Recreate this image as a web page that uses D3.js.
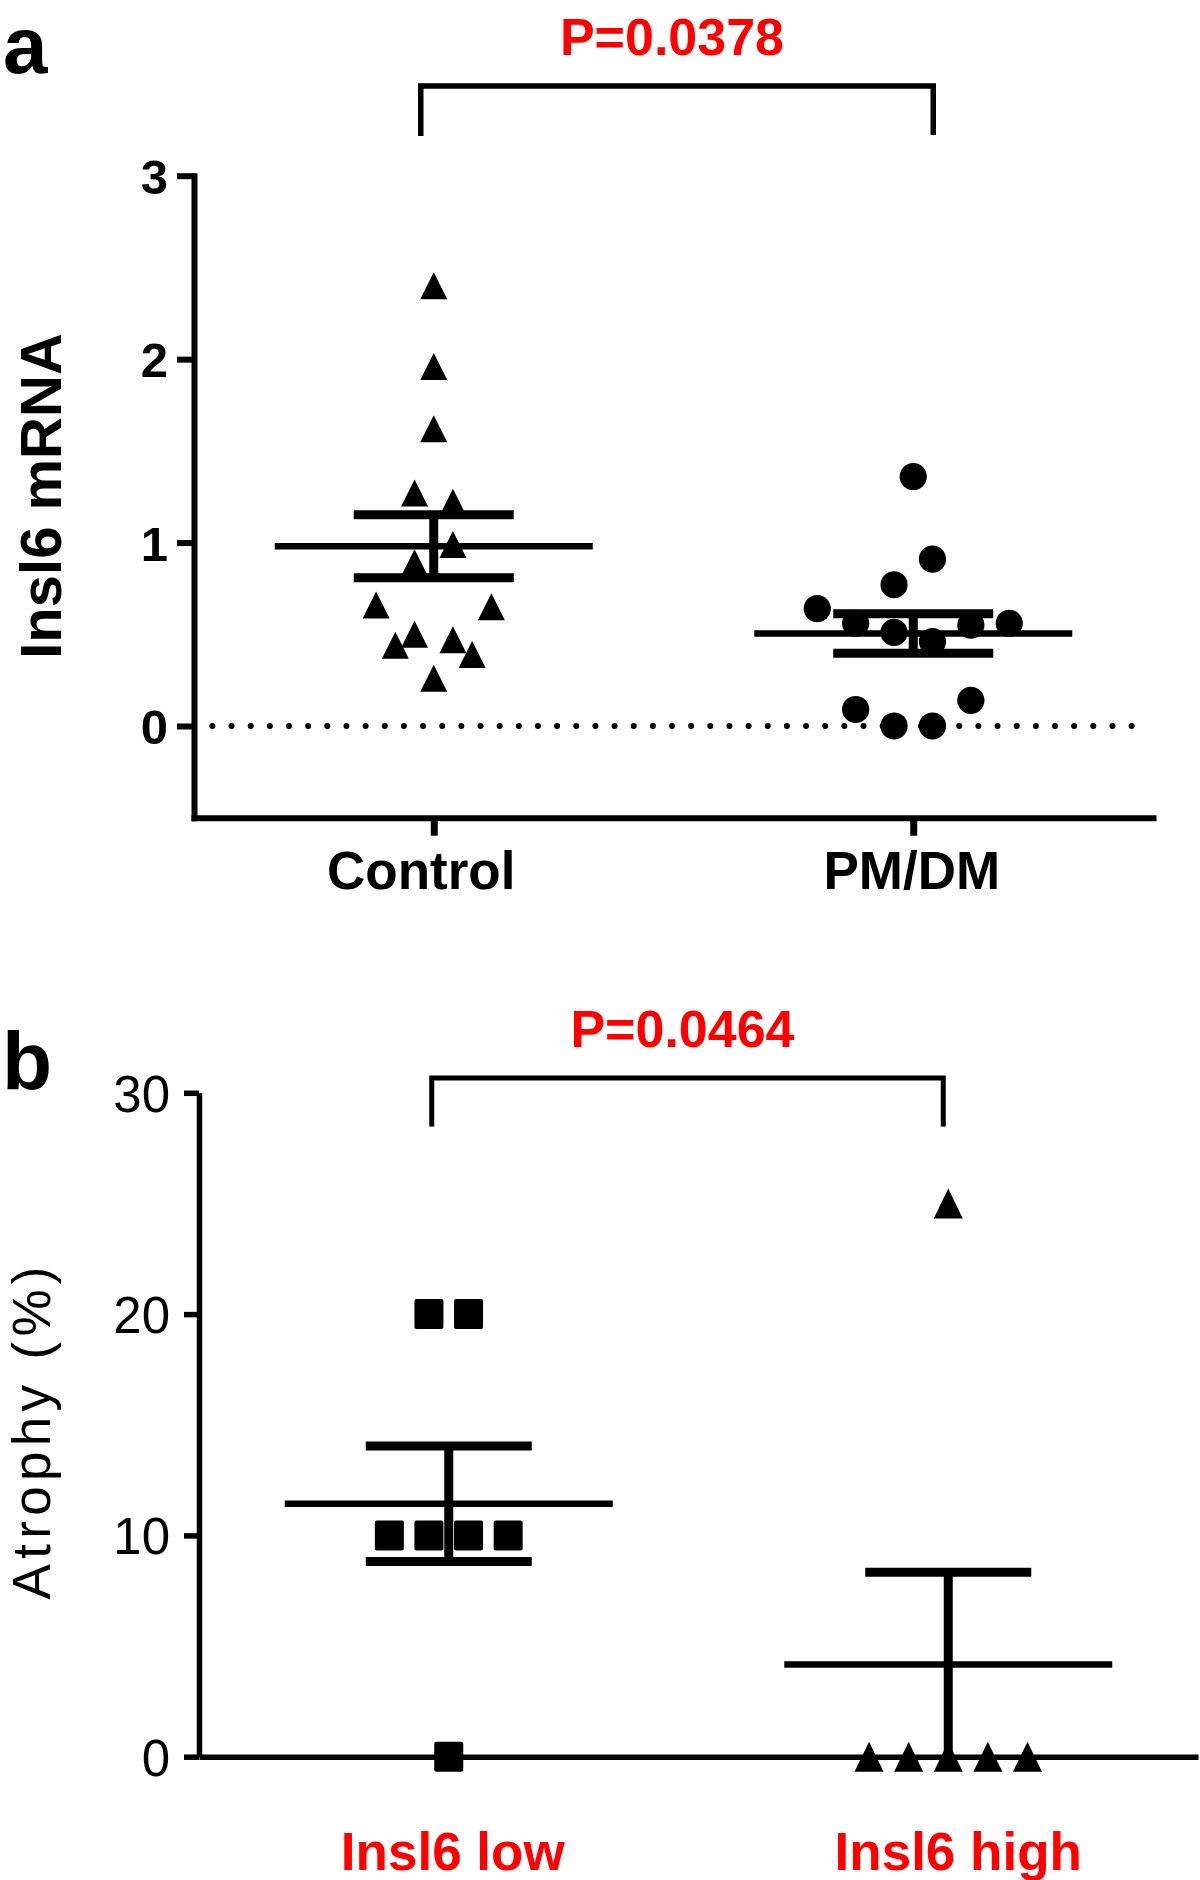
<!DOCTYPE html>
<html><head><meta charset="utf-8">
<script src="https://cdn.jsdelivr.net/npm/d3@7"></script>
<style>body{margin:0;background:#fff} svg{display:block}</style>
</head><body>
<svg id="chart" width="1200" height="1880"></svg>
<script>
// ---------- Panel a data ----------
const groupsA = ["Control", "PM/DM"];
const controlValues = [2.40, 1.96, 1.62, 1.27, 1.22, 0.99, 0.89, 0.66, 0.65, 0.50, 0.44, 0.47, 0.39, 0.26];
const controlJitter = [0, 0, 0, -1, 1, 1, -1, -3, 3, -1, -2, 1, 2, 0];
const pmdmValues = [1.36, 0.91, 0.77, 0.64, 0.56, 0.51, 0.46, 0.55, 0.56, 0.09, 0.00, 0.00, 0.14];
const pmdmJitter = [0, 1, -1, -5, -3, -1, 1, 3, 5, -3, -1, 1, 3];
const ticksA = [0, 1, 2, 3];
const yTitleA = "Insl6 mRNA";
const pLabelA = "P=0.0378";

// ---------- Panel b data ----------
const groupsB = ["Insl6 low", "Insl6 high"];
const lowValues = [20, 20, 10, 10, 10, 10, 0];
const lowJitter = [-1, 1, -3, -1, 1, 3, 0];
const highValues = [25, 0, 0, 0, 0, 0];
const highJitter = [0, -4, -2, 0, 2, 4];
const ticksB = [0, 10, 20, 30];
const yTitleB = "Atrophy (%)";
const pLabelB = "P=0.0464";

const FONT = "'Liberation Sans', Arial, Helvetica, sans-serif";
const RED = "#ff0000";
const svg = d3.select("#chart");

function tri(w, h) {
  return `M0,${-h/2}L${w/2},${h/2}L${-w/2},${h/2}Z`;
}

function summary(g, cx, y, vals, o) {
  const m = d3.mean(vals);
  const s = d3.deviation(vals) / Math.sqrt(vals.length);
  const lo = m - s, hi = m + s;
  const yMin = d3.min(y.domain());
  g.append("line").attr("x1", cx).attr("x2", cx)
    .attr("y1", y(Math.max(lo, yMin))).attr("y2", y(hi))
    .attr("stroke", "#000").attr("stroke-width", o.vW);
  g.append("line").attr("x1", cx - o.meanHalf).attr("x2", cx + o.meanHalf)
    .attr("y1", y(m)).attr("y2", y(m))
    .attr("stroke", "#000").attr("stroke-width", o.meanW);
  const caps = lo > yMin + 0.01 * (y.domain()[1] - y.domain()[0]) ? [hi, lo] : [hi];
  caps.forEach(v => {
    g.append("line").attr("x1", cx - o.capHalf).attr("x2", cx + o.capHalf)
      .attr("y1", y(v)).attr("y2", y(v))
      .attr("stroke", "#000").attr("stroke-width", o.capW);
  });
}

// ================= PANEL A =================
const gA = svg.append("g");
const xA = d3.scalePoint().domain(groupsA).range([194, 1153]).padding(0.5);
const yA = d3.scaleLinear().domain([-0.5, 3]).range([817.7, 175.7]);

// panel letter
svg.append("text").attr("x", 3).attr("y", 73)
  .attr("font-family", FONT).attr("font-weight", "bold").attr("font-size", 80)
  .text("a");

// y axis
const axA = gA.append("g").attr("transform", "translate(194,0)")
  .call(d3.axisLeft(yA).tickValues(ticksA).tickFormat(d3.format("d"))
    .tickSize(17).tickSizeOuter(0).tickPadding(9));
axA.select(".domain").attr("stroke-width", 6).attr("stroke-linecap", "square");
axA.selectAll(".tick line").attr("stroke-width", 6);
axA.selectAll(".tick text").attr("font-family", FONT).attr("font-weight", "bold")
  .attr("font-size", 49).attr("dy", "0.36em").attr("fill", "#000");

// x axis
const axAx = gA.append("g").attr("transform", "translate(0,817.7)")
  .call(d3.axisBottom(xA).tickSize(18).tickSizeOuter(0).tickPadding(16));
axAx.select(".domain").attr("stroke-width", 6).attr("stroke-linecap", "square");
axAx.selectAll(".tick line").attr("stroke-width", 7);
axAx.selectAll(".tick text").attr("font-family", FONT).attr("font-weight", "bold")
  .attr("font-size", 53).attr("fill", "#000")
  .attr("dx", (d, i) => i === 0 ? -13 : -2);

// y title
gA.append("text").attr("transform", "translate(61,496) rotate(-90)")
  .attr("text-anchor", "middle").attr("font-family", FONT)
  .attr("font-weight", "bold").attr("font-size", 58).text(yTitleA);

// dotted zero line
gA.append("line").attr("x1", 212.4).attr("x2", 1150).attr("y1", yA(0)).attr("y2", yA(0))
  .attr("stroke", "#000").attr("stroke-width", 6).attr("stroke-linecap", "round")
  .attr("stroke-dasharray", "0.01 19.14");

const sumOptA = { meanHalf: 159, capHalf: 80, meanW: 6.5, capW: 9, vW: 9 };
summary(gA, xA("Control"), yA, controlValues, sumOptA);
summary(gA, xA("PM/DM"), yA, pmdmValues, sumOptA);

const stepA = 19.2;
gA.append("g").selectAll("path").data(controlValues).join("path")
  .attr("d", tri(27, 27))
  .attr("transform", (d, i) => `translate(${xA("Control") + controlJitter[i] * stepA},${yA(d)})`)
  .attr("fill", "#000");
gA.append("g").selectAll("circle").data(pmdmValues).join("circle")
  .attr("cx", (d, i) => xA("PM/DM") + pmdmJitter[i] * stepA)
  .attr("cy", d => yA(d)).attr("r", 13.6).attr("fill", "#000");

// significance bracket
const bxA1 = xA("Control") - 13, bxA2 = xA("PM/DM") + 20;
gA.append("path").attr("d", `M${bxA1},136V86H${bxA2}V135`)
  .attr("fill", "none").attr("stroke", "#000").attr("stroke-width", 5.5);
gA.append("text").attr("x", (bxA1 + bxA2) / 2 - 5).attr("y", 55)
  .attr("text-anchor", "middle").attr("font-family", FONT).attr("font-weight", "bold")
  .attr("font-size", 52).attr("fill", RED).text(pLabelA);

// ================= PANEL B =================
const gB = svg.append("g");
const xB = d3.scalePoint().domain(groupsB).range([199, 1198]).padding(0.5);
const yB = d3.scaleLinear().domain([0, 30]).range([1756.7, 1092.8]);

svg.append("text").attr("x", 2).attr("y", 1089)
  .attr("font-family", FONT).attr("font-weight", "bold").attr("font-size", 82)
  .text("b");

const axB = gB.append("g").attr("transform", "translate(199,0)")
  .call(d3.axisLeft(yB).tickValues(ticksB).tickFormat(d3.format("d"))
    .tickSize(15).tickSizeOuter(0).tickPadding(14));
axB.select(".domain").attr("stroke-width", 5.5);
axB.selectAll(".tick line").attr("stroke-width", 5.5);
axB.selectAll(".tick text").attr("font-family", FONT).attr("font-weight", "normal")
  .attr("font-size", 51).attr("dy", "0.36em").attr("fill", "#000");

const axBx = gB.append("g").attr("transform", `translate(0,${yB(0)})`)
  .call(d3.axisBottom(xB).tickSize(0).tickSizeOuter(0).tickFormat(""));
axBx.select(".domain").attr("stroke-width", 5.5);

gB.append("text").attr("transform", "translate(50,1433) rotate(-90)")
  .attr("text-anchor", "middle").attr("font-family", FONT)
  .attr("font-size", 53).attr("textLength", 333).attr("lengthAdjust", "spacing")
  .text(yTitleB);

// red category labels
gB.append("g").selectAll("text").data(groupsB).join("text")
  .attr("x", (d, i) => xB(d) + (i === 0 ? 4 : 10)).attr("y", 1870)
  .attr("text-anchor", "middle").attr("font-family", FONT).attr("font-weight", "bold")
  .attr("font-size", 53).attr("fill", RED).text(d => d);

const sumOptB = { meanHalf: 164, capHalf: 83, meanW: 6.5, capW: 9, vW: 9 };
summary(gB, xB("Insl6 low"), yB, lowValues, sumOptB);
summary(gB, xB("Insl6 high"), yB, highValues, sumOptB);

const stepB = 19.8;
gB.append("g").selectAll("rect").data(lowValues).join("rect")
  .attr("x", (d, i) => xB("Insl6 low") + lowJitter[i] * stepB - 14.5)
  .attr("y", d => yB(d) - 15).attr("width", 29).attr("height", 30).attr("rx", 2)
  .attr("fill", "#000");
gB.append("g").selectAll("path").data(highValues).join("path")
  .attr("d", tri(29, 30))
  .attr("transform", (d, i) => `translate(${xB("Insl6 high") + highJitter[i] * stepB},${yB(d)})`)
  .attr("fill", "#000");

const bxB1 = xB("Insl6 low") - 17, bxB2 = xB("Insl6 high") - 5;
gB.append("path").attr("d", `M${bxB1},1126.5V1078H${bxB2}V1126.5`)
  .attr("fill", "none").attr("stroke", "#000").attr("stroke-width", 5);
gB.append("text").attr("x", (bxB1 + bxB2) / 2 - 5).attr("y", 1047)
  .attr("text-anchor", "middle").attr("font-family", FONT).attr("font-weight", "bold")
  .attr("font-size", 52).attr("fill", RED).text(pLabelB);
</script>
</body></html>
